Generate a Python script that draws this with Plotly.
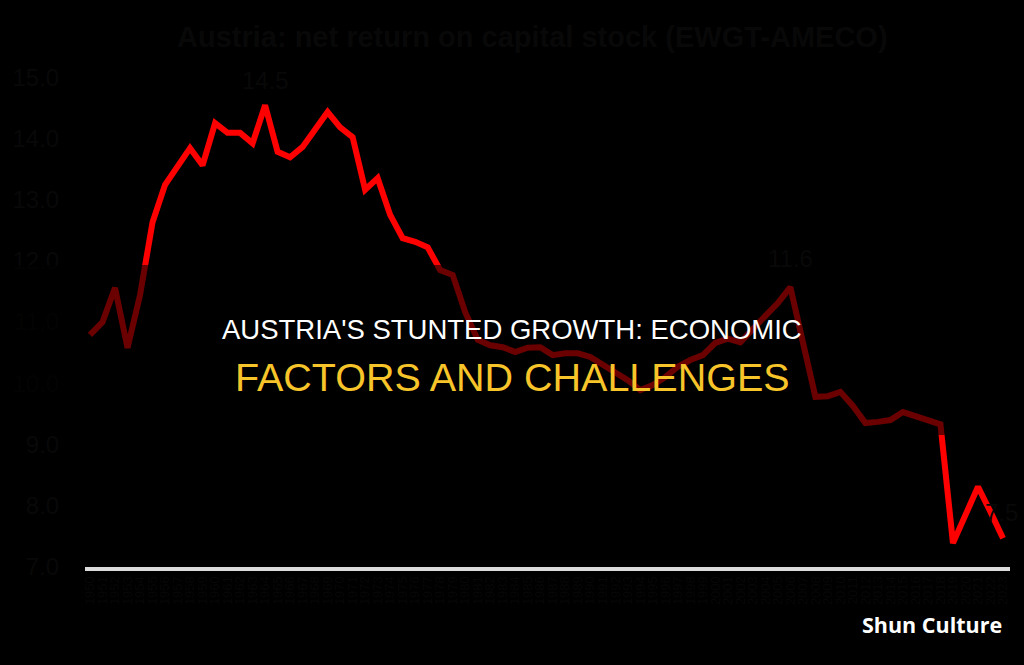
import plotly.graph_objects as go

years = list(range(1950, 2024))
net_return = [
    10.79, 11.00, 11.56, 10.58, 11.44, 12.63, 13.24, 13.55, 13.84, 13.56,
    14.25, 14.09, 14.09, 13.92, 14.54, 13.78, 13.69, 13.86, 14.15, 14.43,
    14.18, 14.02, 13.16, 13.35, 12.75, 12.37, 12.31, 12.22, 11.85, 11.77,
    11.16, 10.71, 10.62, 10.59, 10.51, 10.58, 10.59, 10.46, 10.49, 10.49,
    10.43, 10.30, 10.17, 10.05, 9.89, 9.97, 10.10, 10.27, 10.38, 10.46,
    10.66, 10.73, 10.67, 10.87, 11.10, 11.31, 11.57, 10.67, 9.78, 9.79,
    9.86, 9.63, 9.35, 9.37, 9.40, 9.53, 9.47, 9.40, 9.33, 7.39,
    7.85, 8.31, 7.90, 7.47,
]
y_ticks = [7, 8, 9, 10, 11, 12, 13, 14, 15]
labelled_years = [1964, 2006, 2023]
chart_title = "Austria: net return on capital stock (EWGT-AMECO)"
headline_1 = "AUSTRIA'S STUNTED GROWTH: ECONOMIC"
headline_2 = "FACTORS AND CHALLENGES"
brand = "Shun Culture"

DIM = "#080808"

fig = go.Figure()
fig.add_trace(go.Scatter(
    x=years, y=net_return, mode="lines",
    line=dict(color="#ff0000", width=6),
    hoverinfo="skip", showlegend=False,
))

annotations = []
shifts = {1964: (0, 25), 2006: (0, 29), 2023: (-2, 26)}
for yr in labelled_years:
    v = net_return[years.index(yr)]
    xs, ys = shifts[yr]
    annotations.append(dict(
        x=yr, y=v, xref="x", yref="y", text=f"{v:.1f}", showarrow=False,
        xshift=xs, yshift=ys,
        font=dict(family="Liberation Sans, Arial", size=24, color=DIM),
    ))

annotations += [
    dict(x=0.484, y=1.0685, xref="paper", yref="paper", text=f"<b>{chart_title}</b>",
         showarrow=False, xanchor="center", yanchor="middle",
         font=dict(family="Liberation Sans, Arial", size=29, color="#080808")),
    dict(x=0.4617, y=0.478, xref="paper", yref="paper", text=headline_1,
         showarrow=False, xanchor="center", yanchor="middle",
         font=dict(family="Liberation Sans, Arial", size=27.5, color="#ffffff")),
    dict(x=0.4617, y=0.383, xref="paper", yref="paper", text=headline_2,
         showarrow=False, xanchor="center", yanchor="middle",
         font=dict(family="Liberation Sans, Arial", size=39.5, color="#f7c42a")),
    dict(x=0.916, y=-0.115, xref="paper", yref="paper", text=f"<b>{brand}</b>",
         showarrow=False, xanchor="center", yanchor="middle",
         font=dict(family="Open Sans, Inter", size=21.5, color="#ffffff")),
]

fig.add_shape(type="rect", xref="paper", yref="paper",
              x0=-0.2, x1=1.1, y0=0.266, y1=0.609,
              fillcolor="rgba(0,0,0,0.58)", line=dict(width=0), layer="above")

fig.update_layout(
    width=1024, height=665,
    margin=dict(l=83, r=14, t=71, b=98),
    paper_bgcolor="#000000", plot_bgcolor="#000000",
    annotations=annotations,
    xaxis=dict(
        range=[1949.6, 2023.56], showgrid=False, zeroline=False,
        showline=True, linecolor="#dcdcdc", linewidth=4,
        tickmode="array", tickvals=years, ticktext=[str(y) for y in years],
        tickangle=-90, tickfont=dict(family="Liberation Sans, Arial", size=13, color="#070707"),
        ticks="",
    ),
    yaxis=dict(
        range=[7, 15.1], showgrid=False, zeroline=False, showline=False,
        tickmode="array", tickvals=y_ticks, ticktext=[f"{v:.1f}" for v in y_ticks],
        ticks="outside", ticklen=20, tickcolor="#000000",
        tickfont=dict(family="Liberation Sans, Arial", size=24, color=DIM),
    ),
)

fig.write_html(
    "out.html",
    config={"displayModeBar": False, "staticPlot": True},
    post_script="document.body.style.margin='0px';document.body.style.background='#000';",
)
